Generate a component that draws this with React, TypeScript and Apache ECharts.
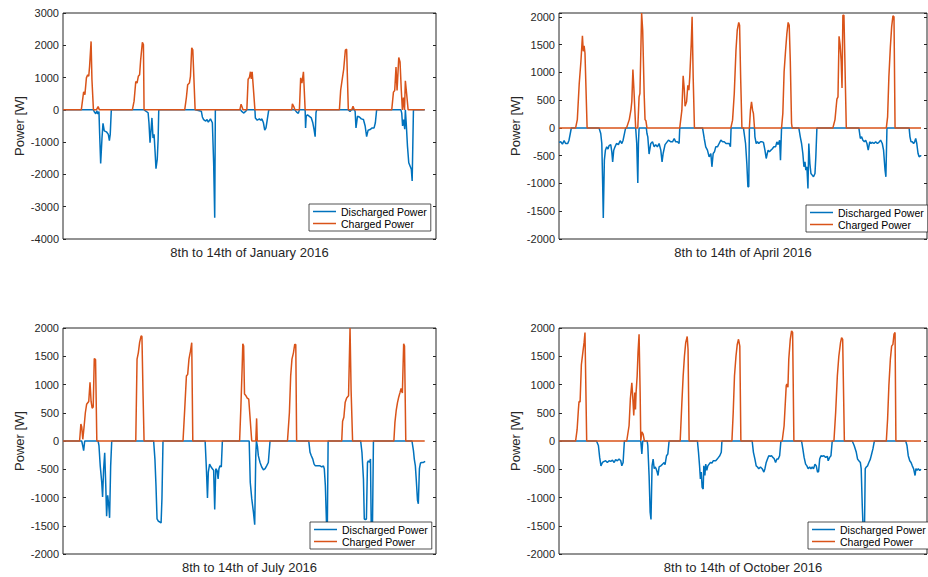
import React, { useEffect, useRef } from 'react';
import * as echarts from 'echarts';

type P = [number, number][];

// x = hours from start of the week, y = power in W
const janCharged: P = [[0,0],[8.6,0],[9.7,560],[10.3,470],[11.0,990],[11.6,1090],[12.1,1040],[12.5,1350],[13.2,2120],[13.6,940],[14.3,0],[15.7,0],[16.5,100],[17.1,0],
[32.6,0],[33.4,270],[34.2,880],[34.8,830],[35.4,1040],[36.0,1090],[36.5,1550],[37.3,2090],[37.8,2020],[38.1,0],
[57.2,0],[58.0,390],[58.6,780],[59.4,830],[59.9,1040],[60.5,1920],[61.0,1860],[62.1,0],
[83.1,0],[83.7,175],[84.6,0],[86.4,0],[87.0,950],[87.6,1000],[88.1,1180],[88.5,960],[88.9,1180],[89.6,550],[90.2,0],
[107.5,0],[107.8,185],[108.4,110],[109.0,0],[111.1,0],[111.7,990],[112.3,830],[113.0,1180],[113.8,0],
[129.9,0],[130.5,610],[131.1,890],[131.9,1250],[132.7,1850],[133.3,1880],[134.1,0],[135.7,0],[136.3,110],[136.9,0],
[154.5,0],[155.3,550],[155.9,600],[156.5,1330],[157.0,600],[157.8,1620],[158.4,1480],[159.0,600],[159.5,0],[160.0,380],[160.5,0],[160.9,900],[161.5,500],[162.2,0],[170,0]];

const janDischarged: P = [[0,0],[14.3,0],[14.8,-70],[15.4,-120],[15.9,-30],[16.4,-130],[16.9,-50],[17.2,-700],[17.7,-1660],[18.3,-900],[18.8,-420],[19.4,-650],[20.4,-680],[21.3,-760],[21.8,-950],[22.2,-760],[22.7,0],
[38.1,0],[40.0,-90],[40.4,-400],[40.9,-1020],[41.4,-600],[41.8,-250],[42.3,-870],[42.8,-760],[43.3,-1330],[43.7,-1820],[44.3,-1530],[44.7,-920],[45.0,0],
[62.1,0],[65.0,-40],[65.5,-220],[66.1,-300],[67.1,-350],[67.7,-300],[68.3,-380],[69.3,-280],[70.2,-400],[70.8,-1640],[71.3,-3340],[71.6,0],
[83.5,0],[84.0,-50],[85.0,-100],[85.9,-40],[86.4,0],[90.2,0],[90.4,-250],[91.3,-320],[92.3,-280],[92.9,-320],[93.5,-280],[94.2,-400],[94.8,-630],[95.4,-560],[96.0,-300],[96.7,0],
[109.0,0],[109.8,-70],[110.6,-110],[111.1,0],[113.8,0],[114.0,-560],[114.3,-200],[114.9,-150],[115.8,-200],[116.7,-250],[117.4,-400],[118.0,-610],[118.5,-830],[118.9,-90],[119.2,0],
[134.1,0],[134.9,-50],[135.5,0],[137.0,0],[137.3,-50],[137.7,-560],[138.4,-200],[139.3,-220],[140.2,-280],[141.2,-300],[142.0,-500],[142.7,-830],[143.4,-630],[144.3,-610],[145.3,-560],[146.2,-560],[146.8,-400],[147.4,0],
[158.8,0],[159.2,-100],[159.6,-500],[160.1,-300],[160.6,-600],[160.9,0],[161.3,-400],[161.9,-1130],[162.5,-1640],[163.1,-1740],[163.7,-1840],[164.1,-2200],[164.7,0],[170,0]];

const aprCharged: P = [[0,0],[7.8,0],[8.6,150],[9.5,800],[10.3,1200],[11.0,1660],[11.4,1380],[11.8,1480],[12.2,1350],[13.2,0],
[31.7,0],[33.0,150],[33.8,330],[34.2,480],[34.7,1050],[35.2,680],[36.0,0],[37.0,0],[37.6,560],[38.0,620],[38.8,2070],[39.3,1760],[40.0,600],[40.4,150],[40.8,130],[41.3,0],
[56.7,0],[57.7,320],[58.3,940],[58.8,710],[59.2,390],[59.9,470],[60.5,770],[61.0,680],[61.4,920],[62.1,1520],[62.5,2000],[63.0,920],[63.6,0],
[80.7,0],[81.5,140],[82.3,620],[83.1,1400],[83.7,1760],[84.4,1900],[84.8,1850],[85.3,900],[85.9,0],
[89.4,0],[89.9,320],[90.4,470],[90.9,320],[91.3,260],[91.8,0],
[104.5,0],[105.1,260],[105.7,1010],[106.4,1400],[107.0,1700],[107.6,1900],[108.1,1850],[108.6,1220],[109.2,80],[109.5,0],
[128.6,0],[129.6,150],[130.2,400],[130.5,520],[131.0,560],[131.5,1650],[132.0,1500],[132.5,1200],[132.9,720],[133.3,2030],[133.8,2030],[134.9,0],
[153.7,0],[154.3,200],[154.9,920],[155.6,1460],[156.2,1820],[156.8,2020],[157.3,2000],[157.8,0],[170,0]];

const aprDischarged: P = [[0,-260],[0.8,-250],[1.6,-290],[2.4,-230],[3.1,-280],[4.1,-280],[4.7,-220],[5.3,-100],[5.8,0],
[18.8,0],[19.6,-100],[20.1,-280],[20.5,-1000],[20.8,-1620],[21.3,-580],[21.8,-400],[22.4,-340],[23.0,-380],[23.5,-320],[24.3,-300],[24.8,-430],[25.2,-610],[25.7,-400],[26.3,-340],[27.0,-280],[27.9,-300],[28.7,-230],[29.5,-280],[30.1,-220],[30.9,-70],[31.3,0],
[36.0,0],[36.5,-280],[37.0,-990],[37.3,-280],[37.6,0],
[41.0,0],[41.3,-100],[41.7,-160],[42.3,-470],[43.1,-280],[43.9,-250],[44.7,-340],[45.4,-300],[46.2,-340],[47.0,-280],[47.8,-400],[48.4,-610],[48.9,-460],[49.8,-300],[50.6,-260],[51.4,-220],[52.5,-250],[53.3,-250],[54.1,-190],[54.8,-250],[55.6,-250],[56.4,-280],[56.7,0],
[67.4,0],[68.2,-190],[68.9,-340],[69.7,-400],[70.5,-520],[71.3,-460],[71.8,-700],[72.4,-460],[73.0,-430],[73.6,-340],[74.4,-340],[75.2,-280],[76.0,-220],[76.8,-250],[77.6,-250],[78.4,-280],[79.1,-280],[79.9,-280],[80.5,-340],[80.8,0],
[86.6,0],[87.6,-280],[88.2,-640],[88.7,-1060],[89.1,-1060],[89.4,0],
[91.8,0],[92.0,-160],[92.6,-280],[93.2,-250],[93.8,-280],[94.6,-250],[95.4,-250],[96.0,-260],[96.7,-400],[97.3,-550],[97.8,-460],[98.2,-400],[98.8,-430],[99.5,-400],[100.1,-380],[100.9,-340],[101.7,-340],[102.3,-250],[102.9,-300],[103.6,-220],[104.0,-580],[104.5,0],
[112.6,0],[113.3,-160],[113.9,-280],[114.5,-460],[115.0,-700],[115.5,-610],[115.9,-760],[116.4,-700],[116.9,-1090],[117.3,-280],[117.8,-640],[118.3,-820],[118.9,-850],[119.5,-880],[120.2,-820],[120.6,-520],[121.1,0],
[140.8,0],[141.5,-190],[142.1,-160],[142.7,-220],[143.4,-250],[144.0,-220],[144.6,-280],[145.2,-400],[145.9,-250],[146.5,-280],[147.1,-260],[147.9,-280],[148.7,-250],[149.5,-280],[150.2,-260],[151.0,-220],[151.8,-280],[152.4,-400],[153.1,-760],[153.5,-880],[154.0,0],
[164.4,0],[164.8,-160],[165.3,-250],[165.9,-250],[166.5,-280],[167.0,-250],[167.5,-190],[168.0,-280],[168.6,-460],[169.1,-520],[169.8,-500],[170.1,-510]];

const julCharged: P = [[0,0],[7.8,0],[8.4,300],[8.8,250],[9.3,30],[9.9,250],[10.5,500],[11.1,650],[12.1,700],[12.7,1040],[13.2,700],[13.7,580],[14.2,600],[14.7,1460],[15.3,1440],[15.9,0],
[34.2,0],[34.8,1450],[35.4,1560],[36.0,1740],[36.7,1860],[37.1,1850],[37.6,860],[38.1,0],
[56.4,0],[57.2,560],[58.0,1150],[58.6,1180],[59.2,1450],[59.9,1590],[60.5,1740],[61.0,0],
[83.0,0],[83.6,600],[84.2,1300],[84.5,1720],[84.9,1680],[85.3,830],[86.0,800],[86.6,760],[87.3,740],[88.7,0],[90.6,0],[91.0,400],[91.3,0],
[105.5,0],[106.4,500],[107.0,1150],[107.6,1450],[108.3,1560],[108.9,1710],[109.4,1710],[109.8,0],
[131.0,0],[131.4,350],[132.0,420],[132.6,680],[133.3,760],[134.2,800],[134.9,2000],[135.4,900],[136.1,0],
[155.5,0],[156.0,330],[156.6,540],[157.2,680],[157.8,780],[158.4,860],[158.9,930],[159.5,850],[160.1,1720],[160.5,1680],[161.1,0],[170,0]];

const julDischarged: P = [[0,0],[8.8,0],[9.4,-110],[9.7,-170],[10.2,0],
[16.5,0],[16.9,-80],[17.5,-440],[18.2,-730],[18.6,-990],[19.1,-490],[19.6,-210],[20.1,-790],[20.5,-1330],[21.0,-960],[21.5,-1140],[21.9,-1360],[22.4,-440],[22.9,0],
[42.6,0],[43.2,-320],[43.7,-790],[44.2,-1380],[44.8,-1420],[45.4,-1430],[46.1,-1450],[46.5,-1020],[47.0,0],
[66.8,0],[67.4,-500],[67.9,-1010],[68.3,-550],[68.9,-410],[69.6,-460],[70.2,-490],[70.8,-520],[71.3,-1210],[71.8,-490],[72.4,-520],[72.9,-670],[73.3,-490],[73.8,-440],[74.4,-460],[74.9,0],
[87.5,0],[88.0,-730],[88.7,-1020],[89.5,-1260],[90.1,-1480],[90.6,-250],[90.9,0],[91.4,-100],[91.8,-260],[92.6,-380],[93.4,-460],[94.2,-510],[95.0,-490],[95.7,-440],[96.5,-380],[97.3,0],
[115.5,0],[116.1,-200],[116.7,-260],[117.4,-320],[118.0,-410],[118.6,-440],[119.2,-440],[120.0,-440],[120.8,-440],[121.6,-460],[122.4,-440],[122.8,-490],[123.3,-790],[123.8,-1410],[124.2,-1650],[124.6,0],
[139.9,0],[140.5,-200],[141.2,-670],[141.6,-1380],[142.1,-1390],[142.6,-1380],[143.1,-380],[143.5,-350],[144.0,-380],[144.5,-320],[144.9,-1650],[145.4,-1650],[145.9,0],
[164.0,0],[164.7,-170],[165.1,-320],[165.6,-440],[166.1,-730],[166.6,-1050],[167.0,-1110],[167.5,-490],[168.0,-390],[168.6,-380],[169.4,-380],[170.2,-360]];

const octCharged: P = [[0,0],[7.8,0],[8.5,200],[9.1,550],[9.4,700],[9.9,690],[10.5,1350],[11.3,1600],[11.8,1750],[12.2,1920],[13.0,0],
[31.8,0],[32.9,270],[33.5,740],[34.2,1030],[34.6,800],[35.1,450],[35.6,860],[35.9,560],[36.2,860],[36.7,1150],[37.1,1560],[37.6,1890],[38.1,860],[38.4,0],[38.9,160],[39.5,120],[40.1,0],
[56.9,0],[57.7,680],[58.3,1150],[58.9,1500],[59.5,1740],[60.2,1850],[60.6,1620],[61.1,0],
[81.2,0],[81.8,500],[82.4,1150],[83.1,1500],[83.7,1710],[84.3,1800],[84.9,1680],[85.4,0],
[104.8,0],[105.7,270],[106.7,980],[107.0,1010],[107.5,950],[107.9,1450],[108.6,1800],[109.2,1950],[109.7,1920],[110.3,0],
[129.1,0],[129.9,500],[130.7,1150],[131.4,1500],[132.2,1740],[132.7,1830],[133.2,1800],[134.0,0],
[153.7,0],[154.3,390],[154.9,980],[155.6,1450],[156.2,1680],[156.8,1710],[157.3,1890],[157.8,1920],[158.2,0],[170,0]];

const octDischarged: P = [[0,0],[17.6,0],[18.5,-80],[19.1,-290],[19.7,-440],[20.4,-380],[21.2,-360],[21.9,-350],[22.7,-380],[23.5,-350],[24.3,-360],[25.1,-340],[25.9,-380],[26.6,-330],[27.4,-350],[28.2,-320],[29.0,-350],[29.5,-440],[30.1,-380],[30.7,0],
[38.4,0],[38.9,-230],[39.3,0],[41.4,0],[41.7,-80],[42.3,-610],[42.8,-1260],[43.2,-1390],[43.7,-440],[44.2,-320],[44.7,-490],[45.1,-460],[45.6,-490],[46.1,-550],[46.5,-610],[47.0,-460],[47.8,-440],[48.6,-410],[49.4,-380],[49.8,-420],[50.5,-260],[51.1,-230],[51.7,0],
[65.0,0],[65.5,-200],[66.0,-440],[66.4,-670],[66.8,-550],[67.2,-820],[67.7,-850],[68.0,-440],[68.5,-610],[68.9,-410],[69.4,-520],[69.9,-440],[70.5,-410],[71.1,-380],[71.8,-390],[72.4,-350],[73.0,-350],[73.6,-350],[74.3,-320],[74.9,-290],[75.5,-260],[76.2,-200],[76.5,0],
[90.7,0],[91.3,-200],[92.0,-320],[92.6,-440],[93.2,-460],[93.8,-490],[94.6,-460],[95.4,-490],[96.2,-550],[96.7,-490],[97.3,-380],[97.9,-320],[98.5,-260],[99.2,-270],[99.8,-260],[100.4,-290],[101.0,-310],[101.7,-380],[102.3,-320],[102.9,-320],[103.6,-260],[104.2,0],
[113.9,0],[114.5,-140],[115.1,-290],[115.8,-410],[116.4,-440],[117.0,-490],[117.7,-460],[118.3,-490],[118.9,-460],[119.5,-490],[120.2,-410],[120.8,-440],[121.4,-550],[121.9,-540],[122.4,-320],[123.0,-260],[123.6,-270],[124.4,-260],[125.2,-290],[126.0,-270],[126.4,-350],[127.1,-290],[127.7,-260],[128.3,0],
[137.7,0],[138.6,-80],[139.6,-200],[140.2,-320],[140.8,-350],[141.5,-380],[141.9,-490],[142.4,-1140],[142.9,-1650],[143.4,-1700],[143.8,-490],[144.3,-460],[144.9,-440],[145.5,-380],[146.2,-320],[146.8,-230],[147.4,-140],[148.1,0],
[162.8,0],[163.4,-80],[164.0,-260],[164.7,-350],[165.3,-380],[165.9,-440],[166.5,-490],[167.2,-610],[167.6,-490],[168.1,-520],[168.7,-490],[169.4,-520],[170.0,-500]];

const panelTitles = ['8th to 14th of January 2016', '8th to 14th of April 2016', '8th to 14th of July 2016', '8th to 14th of October 2016'];
const yMins = [-4000, -2000, -2000, -2000];
const yMaxs = [3000, 2070, 2000, 2000];
const yIntervals = [1000, 500, 500, 500];
const xMaxs = [175.3, 172.8, 175.3, 172.8];
const seriesNames = ['Discharged Power', 'Charged Power'];
const dischargedData = [janDischarged, aprDischarged, julDischarged, octDischarged];
const chargedData = [janCharged, aprCharged, julCharged, octCharged];

const FONT = '"Liberation Sans", Arial, Helvetica, sans-serif';
const AX = '#262626';
const BLUE = '#0072BD';
const ORANGE = '#D95319';
const LINE_ICON = 'path://M0,0H46V3H0Z';

const gridBoxes = [
  { left: 63, top: 13, width: 373, height: 226 },
  { left: 559, top: 13, width: 368, height: 226 },
  { left: 63, top: 328, width: 373, height: 226 },
  { left: 559, top: 328, width: 368, height: 226 },
];
const legendPos = [
  { left: 309, top: 204 },
  { left: 806, top: 205 },
  { left: 310, top: 522 },
  { left: 808, top: 522 },
];

export default function App() {
  const ref = useRef<HTMLDivElement>(null);
  useEffect(() => {
    if (!ref.current) return;
    const chart = echarts.init(ref.current, null, { renderer: 'svg' });
    const grid: any[] = [];
    const xAxis: any[] = [];
    const yAxis: any[] = [];
    const series: any[] = [];
    const legend: any[] = [];
    for (let i = 0; i < 4; i++) {
      grid.push({ ...gridBoxes[i], show: true, borderColor: AX, borderWidth: 1, backgroundColor: '#fff', containLabel: false });
      xAxis.push({
        type: 'value', gridIndex: i, min: 0, max: xMaxs[i],
        axisLine: { show: false }, axisTick: { show: false }, axisLabel: { show: false }, splitLine: { show: false },
        name: panelTitles[i], nameLocation: 'middle', nameGap: 7,
        nameTextStyle: { fontSize: 13, color: AX, fontFamily: FONT },
      });
      const yBase = {
        type: 'value', gridIndex: i, min: yMins[i], max: yMaxs[i], interval: yIntervals[i],
        axisLine: { show: false }, splitLine: { show: false },
        axisTick: { show: true, inside: true, length: 3, lineStyle: { color: AX, width: 1 } },
      };
      yAxis.push({
        ...yBase, position: 'left',
        axisLabel: {
          show: true, margin: 4, fontSize: 11, color: AX, fontFamily: FONT,
          formatter: (v: number) => (v % yIntervals[i] === 0 ? String(v) : ''),
        },
        name: 'Power [W]', nameLocation: 'middle', nameGap: 37, nameRotate: 90,
        nameTextStyle: { fontSize: 13, color: AX, fontFamily: FONT },
      });
      yAxis.push({ ...yBase, position: 'right', axisLabel: { show: false } });
      series.push({
        name: seriesNames[0], type: 'line', xAxisIndex: i, yAxisIndex: 2 * i,
        data: dischargedData[i], symbol: 'none', showSymbol: false,
        lineStyle: { color: BLUE, width: 1.5 }, itemStyle: { color: BLUE }, z: 2,
      });
      series.push({
        name: seriesNames[1], type: 'line', xAxisIndex: i, yAxisIndex: 2 * i,
        data: chargedData[i], symbol: 'none', showSymbol: false,
        lineStyle: { color: ORANGE, width: 1.5 }, itemStyle: { color: ORANGE }, z: 3,
      });
      legend.push({
        ...legendPos[i], orient: 'vertical', selectedMode: false,
        data: seriesNames.map((n) => ({ name: n, icon: LINE_ICON })),
        itemWidth: 23, itemHeight: 12, itemGap: 1, padding: [2, 4, 2, 4],
        symbolKeepAspect: true,
        borderColor: AX, borderWidth: 0.8, backgroundColor: '#fff',
        textStyle: { fontSize: 10.5, color: '#000', fontFamily: FONT },
      });
    }
    chart.setOption({
      animation: false,
      backgroundColor: '#fff',
      textStyle: { fontFamily: FONT },
      grid, xAxis, yAxis, series, legend,
    });
    return () => chart.dispose();
  }, []);
  return <div ref={ref} style={{ position: 'fixed', left: 0, top: 0, width: 928, height: 577 }} />;
}
